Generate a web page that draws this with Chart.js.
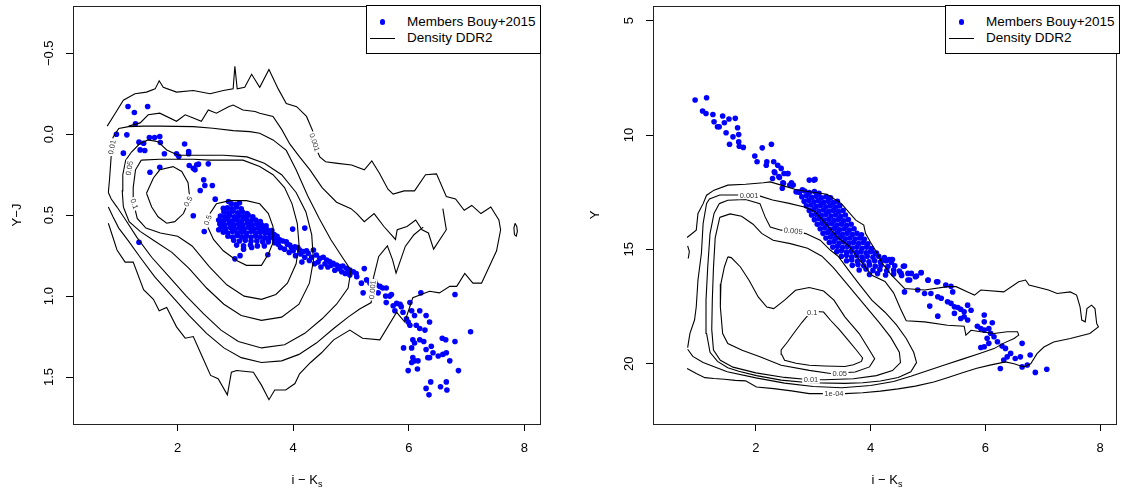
<!DOCTYPE html>
<html>
<head>
<meta charset="utf-8">
<script src="https://cdn.jsdelivr.net/npm/chart.js@4.4.1/dist/chart.umd.min.js"></script>
<style>
  body { margin: 0; background: #fff; width: 1121px; height: 492px; overflow: hidden; position: relative;
         font-family: "Liberation Sans", Arial, Helvetica, sans-serif; color: #000; }
  canvas { position: absolute; top: 0; }
  #leftChart  { left: 0; }
  #rightChart { left: 560px; }
  .legend { position: absolute; top: 5px; width: 175px; height: 49px; box-sizing: border-box;
            border: 1px solid #000; background: #fff; font-size: 13.5px; }
  .legend .dot  { position: absolute; left: 12.6px; top: 13.4px; width: 5.8px; height: 5.8px; border-radius: 50%; background: #00f; }
  .legend .line { position: absolute; left: 3.4px; top: 31.8px; width: 24.6px; height: 1px; background: #000; }
  .legend .txt  { position: absolute; left: 39.9px; line-height: 16px; white-space: nowrap; }
  .xtitle { position: absolute; top: 471px; width: 200px; text-align: center; font-size: 13px; line-height: 18px; }
  .xtitle sub { font-size: 9px; vertical-align: -3px; }
</style>
</head>
<body>
<canvas id="leftChart" width="560" height="492"></canvas>
<canvas id="rightChart" width="561" height="492"></canvas>

<div class="legend" style="left:366px">
  <span class="dot"></span><span class="txt" style="top:8.3px">Members Bouy+2015</span>
  <span class="line"></span><span class="txt" style="top:24.3px">Density DDR2</span>
</div>
<div class="legend" style="left:945px">
  <span class="dot"></span><span class="txt" style="top:8.3px">Members Bouy+2015</span>
  <span class="line"></span><span class="txt" style="top:24.3px">Density DDR2</span>
</div>
<div class="xtitle" style="left:207px">i − K<sub>s</sub></div>
<div class="xtitle" style="left:787px">i − K<sub>s</sub></div>

<script>
// axis ticks
const xTicks = [2, 4, 6, 8];
const leftYTicks  = [-0.5, 0, 0.5, 1, 1.5];
const leftYLabels = ['\u22120.5', '0.0', '0.5', '1.0', '1.5'];
const rightYTicks  = [5, 10, 15, 20];
const rightYLabels = ['5', '10', '15', '20'];

// members, left panel (i-Ks, Y-J)
const leftMembers = [
  [1.14,-0.171],[1.25,-0.134],[1.48,-0.171],[1.27,-0.064],[0.94,0.0],[1.12,0.004],[1.06,0.117],[1.33,0.049],
  [1.41,0.056],[1.51,0.021],[1.60,0.021],[1.69,0.014],[1.70,0.051],[1.35,0.097],[1.43,0.101],[1.52,0.235],
  [1.69,0.204],[1.77,0.121],[1.98,0.121],[2.02,0.138],[2.12,0.060],[2.19,0.107],[2.19,0.121],[2.20,0.193],
  [2.27,0.21],[2.30,0.22],[2.33,0.189],[2.36,0.185],[2.53,0.183],[2.45,0.282],[2.47,0.317],[2.60,0.317],
  [2.39,0.348],[2.65,0.401],[2.27,0.504],[2.46,0.601],[1.33,0.667],[2.73,0.535],[2.71,0.59],[2.79,0.457],[2.88,0.416],
  // dense clump
  [2.93,0.43],[3.01,0.435],[3.07,0.425],
  [2.86,0.455],[2.94,0.46],[3.02,0.45],[3.10,0.46],
  [2.80,0.48],[2.88,0.485],[2.96,0.475],[3.04,0.485],[3.12,0.48],[3.20,0.49],
  [2.74,0.505],[2.82,0.51],[2.90,0.50],[2.98,0.51],[3.06,0.505],[3.14,0.51],[3.22,0.50],[3.30,0.51],
  [2.71,0.53],[2.79,0.535],[2.87,0.525],[2.95,0.535],[3.03,0.53],[3.11,0.535],[3.19,0.525],[3.27,0.535],[3.35,0.53],[3.43,0.54],
  [2.73,0.555],[2.81,0.56],[2.89,0.55],[2.97,0.56],[3.05,0.555],[3.13,0.56],[3.21,0.55],[3.29,0.56],[3.37,0.555],[3.45,0.56],[3.53,0.565],
  [2.75,0.58],[2.83,0.585],[2.91,0.575],[2.99,0.585],[3.07,0.58],[3.15,0.585],[3.23,0.575],[3.31,0.585],[3.39,0.58],[3.47,0.585],[3.55,0.59],[3.63,0.595],
  [2.79,0.605],[2.87,0.61],[2.95,0.60],[3.03,0.61],[3.11,0.605],[3.19,0.61],[3.27,0.60],[3.35,0.61],[3.43,0.605],[3.51,0.61],[3.59,0.615],[3.67,0.62],
  [2.87,0.63],[2.95,0.635],[3.03,0.625],[3.11,0.635],[3.19,0.63],[3.27,0.635],[3.35,0.63],[3.43,0.635],[3.51,0.64],[3.59,0.64],[3.67,0.645],[3.75,0.65],
  [2.97,0.655],[3.07,0.66],[3.17,0.655],[3.27,0.66],[3.37,0.66],[3.47,0.665],[3.57,0.665],[3.68,0.67],
  [3.02,0.685],[3.14,0.69],[3.26,0.685],[3.38,0.69],[3.50,0.69],
  [2.99,0.77],[3.08,0.75],[3.14,0.71],[3.28,0.70],[3.56,0.745],[3.99,0.586],[4.20,0.58],
  // sequence towards red end
  [3.72,0.63],[3.74,0.68],[3.77,0.653],[3.78,0.70],[3.82,0.66],[3.85,0.71],[3.88,0.664],[3.90,0.68],[3.93,0.73],
  [3.94,0.684],[3.97,0.70],[4.00,0.72],[4.03,0.695],[4.04,0.75],[4.08,0.70],[4.11,0.715],[4.13,0.74],[4.15,0.79],
  [4.17,0.725],[4.20,0.76],[4.23,0.72],[4.26,0.736],[4.28,0.78],[4.32,0.76],[4.35,0.715],[4.37,0.80],[4.40,0.746],
  [4.43,0.79],[4.46,0.767],[4.48,0.82],[4.52,0.76],[4.55,0.80],[4.58,0.777],[4.60,0.82],[4.63,0.787],[4.66,0.81],
  [4.69,0.797],[4.72,0.84],[4.75,0.808],[4.78,0.83],[4.81,0.818],[4.84,0.85],[4.86,0.814],[4.90,0.86],[4.92,0.828],
  [4.95,0.85],[4.98,0.839],[5.04,0.85],[5.09,0.86],[5.27,0.90],[5.35,0.92],[5.44,0.93],[5.55,0.95],[5.70,0.99],
  [5.79,1.045],[5.87,1.065],
  [5.23,0.83],[4.98,0.87],[5.10,0.88],[5.18,0.92],[5.33,0.92],[5.41,0.91],[5.50,0.94],[5.61,0.95],[5.39,0.97],
  [5.47,0.98],[5.60,1.00],[5.67,1.00],[5.21,0.98],[5.61,1.04],[5.73,1.06],[5.85,1.05],[6.02,1.04],[5.76,1.09],
  [5.90,1.10],[6.05,1.09],[6.19,1.09],[6.21,0.98],[6.80,0.99],[6.30,1.12],[6.36,1.16],[6.10,1.12],[5.96,1.14],
  [5.99,1.16],[6.02,1.18],[6.13,1.18],[6.19,1.20],[6.28,1.21],[6.07,1.27],[6.19,1.27],[6.26,1.28],[6.10,1.29],
  [6.58,1.26],[6.64,1.27],[6.80,1.28],[7.07,1.22],[5.91,1.32],[6.05,1.32],[6.39,1.31],[6.30,1.33],[6.42,1.35],
  [6.51,1.37],[6.59,1.36],[6.65,1.35],[6.71,1.40],[6.36,1.38],[6.33,1.38],[6.07,1.38],[6.10,1.40],[6.16,1.40],
  [6.05,1.41],[5.99,1.46],[6.15,1.45],[6.86,1.46],[6.38,1.53],[6.65,1.53],[6.55,1.56],[6.66,1.58],[6.30,1.57],[6.35,1.61]
];

// members, right panel (i-Ks, Y)
const rightMembers = [
  [0.94,8.47],[1.14,8.37],[1.07,8.95],[1.13,9.06],[1.25,9.10],[1.27,9.42],[1.33,9.64],[1.36,9.64],[1.42,9.17],
  [1.45,9.46],[1.53,9.30],[1.48,9.90],[1.54,10.40],[1.60,10.08],[1.64,9.27],[1.68,9.68],[1.70,9.98],[1.70,10.30],
  [1.71,10.49],[1.78,10.54],[1.98,10.92],[2.02,11.17],[2.11,10.56],[2.18,11.32],[2.19,11.17],[2.27,10.40],
  [2.31,11.17],[2.33,11.65],[2.38,11.32],[2.44,11.46],[2.41,11.86],[2.47,12.09],[2.49,11.68],[2.56,11.68],
  [2.59,12.19],[2.62,12.09],[2.65,12.19],[2.70,12.48],[2.93,11.97],[3.01,11.97],[3.03,11.94],
  [2.32,11.61],[2.40,11.82],[2.55,11.68],[2.29,11.90],[2.48,12.11],[2.46,12.33],[2.63,12.19],[2.72,12.48],[2.81,12.40],
  // dense clump
  [2.76,12.50],[2.85,12.45],[2.93,12.52],[3.02,12.47],[3.10,12.55],
  [2.80,12.70],[2.88,12.66],[2.97,12.72],[3.05,12.68],[3.14,12.74],[3.22,12.70],[3.30,12.75],
  [2.84,12.90],[2.92,12.86],[3.01,12.92],[3.09,12.88],[3.18,12.94],[3.26,12.90],[3.35,12.95],[3.42,12.90],
  [2.88,13.10],[2.96,13.06],[3.05,13.12],[3.13,13.08],[3.22,13.14],[3.30,13.10],[3.39,13.15],[3.46,13.10],
  [2.93,13.30],[3.01,13.26],[3.10,13.32],[3.18,13.28],[3.27,13.34],[3.35,13.30],[3.44,13.35],[3.52,13.30],
  [2.97,13.50],[3.05,13.46],[3.14,13.52],[3.22,13.48],[3.31,13.54],[3.39,13.50],[3.48,13.55],[3.56,13.50],
  [3.02,13.70],[3.10,13.66],[3.19,13.72],[3.27,13.68],[3.36,13.74],[3.44,13.70],[3.53,13.75],[3.61,13.70],
  [3.07,13.90],[3.15,13.86],[3.24,13.92],[3.32,13.88],[3.41,13.94],[3.49,13.90],[3.58,13.95],[3.66,13.90],
  [3.12,14.10],[3.20,14.06],[3.29,14.12],[3.37,14.08],[3.46,14.14],[3.54,14.10],[3.63,14.15],[3.71,14.10],
  [3.17,14.30],[3.25,14.26],[3.34,14.32],[3.42,14.28],[3.51,14.34],[3.59,14.30],[3.68,14.35],[3.76,14.30],[3.84,14.36],
  [3.22,14.50],[3.30,14.46],[3.39,14.52],[3.47,14.48],[3.56,14.54],[3.64,14.50],[3.73,14.55],[3.81,14.50],[3.89,14.56],
  [3.28,14.70],[3.36,14.66],[3.45,14.72],[3.53,14.68],[3.62,14.74],[3.70,14.70],[3.79,14.75],[3.87,14.70],[3.95,14.76],
  [3.34,14.90],[3.42,14.86],[3.51,14.92],[3.59,14.88],[3.68,14.94],[3.76,14.90],[3.85,14.95],[3.93,14.90],[4.01,14.96],
  [3.41,15.10],[3.49,15.06],[3.58,15.12],[3.66,15.08],[3.75,15.14],[3.83,15.10],[3.92,15.15],[4.00,15.10],[4.10,15.16],
  [3.49,15.30],[3.58,15.26],[3.67,15.32],[3.76,15.28],[3.85,15.34],[3.94,15.30],[4.04,15.35],[4.14,15.30],[4.24,15.36],
  [3.58,15.50],[3.67,15.46],[3.77,15.52],[3.87,15.48],[3.97,15.54],[4.07,15.50],[4.17,15.55],[4.27,15.50],[4.36,15.56],
  [3.68,15.70],[3.78,15.66],[3.88,15.72],[3.98,15.68],[4.08,15.74],[4.18,15.70],[4.30,15.75],[4.42,15.72],
  [3.80,15.90],[3.92,15.86],[4.04,15.92],[4.16,15.88],[4.28,15.94],[4.40,15.90],[4.50,15.95],
  [3.98,16.10],[4.12,16.06],[4.26,16.12],[4.40,16.08],[4.54,16.14],
  // sequence towards faint end
  [4.20,15.47],[4.32,15.44],[4.38,15.44],[4.57,15.74],[4.88,16.01],[4.78,16.20],[5.00,16.35],[5.15,16.42],[5.43,16.86],
  [4.02,15.03],[4.08,15.17],[4.25,15.47],[4.36,15.44],[4.59,15.73],[4.65,16.05],[4.53,16.05],[4.71,16.05],[4.80,16.17],
  [4.88,16.02],[5.00,16.34],[5.17,16.42],[5.31,16.56],[5.40,16.61],[4.59,16.86],[4.65,16.34],[4.68,16.34],[4.82,16.78],
  [4.94,16.93],[5.05,16.93],[5.17,17.07],[5.23,17.14],[5.34,17.29],[5.40,17.36],[5.46,17.51],[5.52,17.54],[5.57,17.62],
  [5.63,17.73],[5.69,17.44],[5.75,17.66],[5.03,17.48],[5.17,17.92],[5.46,17.80],[5.57,18.02],[5.63,17.95],[5.69,18.09],
  [5.98,17.87],[6.12,18.21],[5.98,18.17],[5.86,18.36],[5.92,18.46],[5.98,18.53],[6.06,18.46],[6.09,18.67],[6.03,18.89],
  [6.15,18.82],[6.21,19.04],[6.06,19.11],[5.98,19.26],[5.92,19.29],[6.29,19.23],[6.35,19.33],[6.44,19.55],[6.38,19.70],
  [6.32,19.84],[6.26,20.21],[6.52,19.77],[6.61,19.70],[6.64,19.11],[6.78,19.62],[6.73,20.06],[6.64,20.14],[6.87,20.38],[7.07,20.24]
];

// density contours, left panel
const leftC0001 = [[0.78,-0.05],[0.92,-0.13],[1.06,-0.21],[1.26,-0.25],[1.46,-0.26],[1.61,-0.28],[1.68,-0.33],[1.75,-0.29],[1.98,-0.26],[2.27,-0.27],[2.56,-0.25],[2.79,-0.27],[2.96,-0.28],[2.99,-0.42],[3.03,-0.28],[3.16,-0.29],[3.28,-0.37],[3.42,-0.29],[3.58,-0.40],[3.74,-0.28],[3.88,-0.19],[4.06,-0.17],[4.23,-0.11],[4.35,-0.01],[4.40,0.09],[4.46,0.14],[4.56,0.17],[4.77,0.18],[5.01,0.19],[5.23,0.22],[5.36,0.165],[5.49,0.24],[5.64,0.34],[5.73,0.37],[5.92,0.35],[6.10,0.35],[6.29,0.25],[6.48,0.245],[6.65,0.385],[6.81,0.40],[6.96,0.47],[7.09,0.44],[7.25,0.49],[7.42,0.45],[7.56,0.53],[7.59,0.59],[7.52,0.72],[7.26,0.92],[7.11,0.92],[6.97,0.86],[6.83,0.94],[6.71,0.94],[6.53,0.98],[6.36,0.97],[6.07,1.01],[5.93,1.16],[5.79,1.10],[5.50,1.27],[5.20,1.26],[4.98,1.21],[4.70,1.27],[4.49,1.35],[4.30,1.41],[4.11,1.48],[4.03,1.54],[3.87,1.58],[3.68,1.58],[3.58,1.64],[3.45,1.55],[3.31,1.47],[3.02,1.46],[2.93,1.47],[2.86,1.61],[2.70,1.51],[2.57,1.49],[2.42,1.37],[2.27,1.25],[2.13,1.26],[1.98,1.19],[1.81,1.07],[1.68,1.09],[1.58,1.02],[1.41,0.96],[1.23,0.79],[1.09,0.79],[0.95,0.715],[0.80,0.55]];
const leftStrand = [[1.15,-0.05],[1.35,-0.07],[1.49,-0.12],[1.69,-0.13],[1.98,-0.08],[2.13,-0.12],[2.27,-0.10],[2.41,-0.08],[2.53,-0.15],[2.67,-0.13],[2.88,-0.17],[2.96,-0.18],[3.13,-0.15],[3.34,-0.14],[3.42,-0.13],[3.65,-0.11],[3.80,-0.03],[3.94,0.06],[4.11,0.14],[4.29,0.22],[4.50,0.33],[4.75,0.42],[5.00,0.46],[5.10,0.49],[5.23,0.54],[5.40,0.49],[5.57,0.57],[5.77,0.65],[5.80,0.59],[5.97,0.57],[6.12,0.53],[6.23,0.59],[6.34,0.61],[6.43,0.71],[6.65,0.59],[6.59,0.46]];
const leftStrandLow = [[6.25,0.574],[6.09,0.621],[5.94,0.693],[5.78,0.858],[5.72,0.776],[5.63,0.69],[5.48,0.755],[5.38,0.90],[5.35,1.04],[5.15,1.08],[4.95,1.13],[4.70,1.20],[4.40,1.29],[4.10,1.36],[3.80,1.40],[3.45,1.41],[3.10,1.38],[2.80,1.32],[2.50,1.23],[2.20,1.12],[1.90,1.00],[1.60,0.88],[1.35,0.76],[1.15,0.66],[0.98,0.58],[0.88,0.51],[0.80,0.45]];
const leftC001 = [[0.80,0.36],[0.82,0.28],[0.84,0.18],[0.86,0.08],[0.88,0.02],[0.98,-0.035],[1.15,-0.047],[1.41,-0.05],[1.69,-0.05],[2.27,-0.047],[2.61,-0.037],[2.96,-0.022],[3.25,-0.016],[3.42,-0.006],[3.65,0.035],[3.88,0.10],[4.05,0.22],[4.25,0.38],[4.45,0.52],[4.65,0.65],[4.85,0.76],[5.00,0.84],[4.95,0.95],[4.75,1.05],[4.50,1.14],[4.20,1.23],[3.85,1.30],[3.45,1.32],[3.05,1.28],[2.75,1.21],[2.45,1.11],[2.15,1.00],[1.85,0.88],[1.55,0.76],[1.30,0.64],[1.10,0.53],[0.95,0.45],[0.85,0.40],[0.80,0.36]];
const leftC005 = [[1.06,0.45],[1.04,0.35],[1.05,0.25],[1.10,0.16],[1.20,0.11],[1.35,0.056],[1.49,0.035],[1.66,0.046],[1.81,0.097],[2.01,0.13],[2.40,0.13],[2.80,0.13],[3.20,0.14],[3.50,0.18],[3.80,0.25],[4.05,0.36],[4.22,0.48],[4.32,0.62],[4.35,0.78],[4.28,0.92],[4.10,1.05],[3.80,1.13],[3.45,1.15],[3.10,1.12],[2.80,1.05],[2.50,0.95],[2.20,0.83],[1.90,0.73],[1.60,0.66],[1.35,0.60],[1.16,0.54],[1.06,0.45]];
const leftC01 = [[1.37,0.16],[1.69,0.155],[2.27,0.155],[2.56,0.16],[3.13,0.16],[3.42,0.20],[3.65,0.25],[3.85,0.33],[3.98,0.43],[4.07,0.55],[4.10,0.68],[4.05,0.80],[3.90,0.92],[3.70,0.99],[3.45,1.02],[3.15,1.00],[2.85,0.93],[2.55,0.82],[2.25,0.69],[2.00,0.63],[1.70,0.61],[1.45,0.58],[1.30,0.52],[1.24,0.43],[1.23,0.33],[1.27,0.22],[1.37,0.16]];
const leftPeakA = [[1.46,0.365],[1.58,0.27],[1.69,0.22],[1.92,0.20],[2.07,0.23],[2.18,0.30],[2.21,0.40],[2.10,0.49],[1.95,0.54],[1.81,0.55],[1.66,0.51],[1.55,0.45],[1.46,0.365]];
const leftPeakB = [[2.56,0.49],[2.67,0.43],[2.90,0.41],[3.19,0.41],[3.42,0.43],[3.57,0.49],[3.65,0.57],[3.65,0.67],[3.57,0.74],[3.45,0.81],[3.19,0.81],[3.02,0.78],[2.79,0.72],[2.62,0.65],[2.53,0.58],[2.56,0.49]];
const leftIsland = [[7.84,0.55],[7.87,0.57],[7.88,0.60],[7.86,0.63],[7.83,0.62],[7.82,0.58],[7.84,0.55]];
const leftLabels = [
  { x: 4.37, y: 0.05, text: '0.001', angle: 72 },
  { x: 0.86, y: 0.08, text: '0.01', angle: -80 },
  { x: 1.16, y: 0.21, text: '0.05', angle: -80 },
  { x: 1.25, y: 0.43, text: '0.1', angle: 70 },
  { x: 2.18, y: 0.415, text: '0.5', angle: -60 },
  { x: 2.52, y: 0.53, text: '0.5', angle: -70 },
  { x: 5.37, y: 0.96, text: '0.001', angle: -85 }
];

// density contours, right panel
const rightC1e4 = [[0.80,14.48],[0.96,14.16],[0.99,13.43],[1.08,13.00],[1.14,12.63],[1.27,12.41],[1.51,12.19],[1.82,12.15],[2.13,12.09],[2.25,12.05],[2.44,12.19],[2.69,12.38],[2.93,12.48],[3.24,12.59],[3.49,13.00],[3.74,13.72],[3.88,13.94],[3.91,14.30],[4.00,14.70],[4.10,15.10],[4.20,15.60],[4.36,16.12],[4.59,16.71],[4.94,16.78],[5.34,16.63],[5.49,16.63],[5.69,16.86],[5.81,17.00],[5.92,16.78],[6.32,16.86],[6.58,16.42],[6.70,16.34],[6.76,16.56],[7.10,16.78],[7.25,16.93],[7.48,16.86],[7.59,17.00],[7.65,17.51],[7.68,18.09],[7.74,18.17],[7.77,17.59],[7.85,17.44],[7.91,17.59],[7.94,18.24],[7.97,18.39],[7.82,18.68],[7.48,18.90],[7.19,19.05],[7.02,19.27],[6.90,19.56],[6.79,20.00],[6.67,20.14],[6.50,20.00],[6.35,19.92],[6.10,20.05],[5.85,20.20],[5.60,20.40],[5.35,20.60],[5.10,20.80],[4.78,20.98],[4.48,21.10],[4.17,21.20],[3.86,21.27],[3.55,21.31],[2.93,21.31],[2.62,21.19],[2.31,21.09],[2.01,21.02],[1.82,20.75],[1.64,20.73],[1.45,20.68],[1.27,20.65],[1.11,20.61],[0.96,20.43],[0.80,20.21]];
const rightArc = [[0.81,14.85],[0.84,15.10],[0.82,15.40]];
const rightC0001 = [[0.81,19.30],[0.85,18.67],[0.93,18.09],[0.96,17.51],[0.99,16.34],[1.05,15.17],[1.08,13.86],[1.14,12.99],[1.19,12.80],[1.37,12.62],[1.71,12.62],[2.06,12.66],[2.29,12.84],[2.58,12.99],[2.86,13.16],[3.03,13.35],[3.21,13.86],[3.44,14.52],[3.61,14.83],[3.79,15.41],[4.02,16.13],[4.25,16.40],[4.40,16.90],[4.52,17.60],[4.62,18.12],[4.94,18.17],[5.34,18.32],[5.63,18.36],[5.66,18.75],[5.75,18.54],[5.92,18.60],[6.15,18.68],[6.38,18.60],[6.56,18.60],[6.58,18.75],[6.50,18.90],[6.32,19.10],[6.15,19.34],[5.90,19.55],[5.60,19.80],[5.30,20.05],[5.00,20.30],[4.70,20.55],[4.40,20.78],[4.00,20.95],[3.50,21.05],[3.00,21.00],[2.50,20.85],[2.00,20.62],[1.50,20.35],[1.08,19.95],[0.90,19.68],[0.81,19.37]];
const rightC0005 = [[1.36,13.00],[1.51,12.85],[1.82,12.82],[2.07,13.00],[2.16,13.58],[2.25,14.02],[2.44,14.16],[2.65,14.19],[2.87,14.31],[3.12,14.60],[3.30,15.04],[3.44,15.32],[3.61,15.90],[3.79,16.49],[4.02,17.22],[4.25,17.75],[4.45,18.30],[4.62,18.90],[4.75,19.50],[4.80,19.95],[4.70,20.35],[4.48,20.60],[4.17,20.76],[3.86,20.83],[3.55,20.86],[2.93,20.83],[2.44,20.72],[2.01,20.52],[1.70,20.33],[1.51,20.18],[1.33,19.90],[1.20,19.50],[1.14,18.68],[1.13,17.22],[1.16,15.77],[1.20,14.31],[1.27,13.43],[1.36,13.00]];
const rightC001 = [[1.37,13.60],[1.55,13.45],[1.75,13.55],[1.95,13.90],[2.10,14.30],[2.30,14.60],[2.60,14.75],[2.90,14.95],[3.15,15.30],[3.35,15.80],[3.55,16.40],[3.75,17.00],[3.95,17.60],[4.15,18.20],[4.35,18.85],[4.50,19.50],[4.52,19.95],[4.38,20.30],[4.10,20.52],[3.70,20.66],[3.20,20.70],[2.90,20.69],[2.50,20.60],[2.00,20.40],[1.60,20.15],[1.38,19.85],[1.26,19.40],[1.23,18.50],[1.24,17.20],[1.26,15.80],[1.29,14.50],[1.37,13.60]];
const rightC005 = [[1.51,15.33],[1.45,15.77],[1.39,16.50],[1.38,17.52],[1.42,18.68],[1.51,19.12],[1.76,19.41],[2.07,19.70],[2.44,20.07],[2.93,20.29],[3.30,20.43],[3.73,20.36],[3.98,20.14],[4.07,19.78],[3.98,19.41],[3.80,18.68],[3.55,17.95],[3.36,17.22],[3.18,16.82],[2.93,16.67],[2.69,16.79],[2.50,17.22],[2.31,17.59],[2.19,17.52],[2.04,17.08],[1.88,16.35],[1.73,15.77],[1.57,15.36],[1.51,15.33]];
const rightC01 = [[2.45,19.60],[2.44,19.40],[2.55,19.05],[2.65,18.70],[2.80,18.20],[2.93,17.81],[3.05,17.72],[3.18,17.74],[3.30,18.10],[3.45,18.50],[3.60,18.95],[3.75,19.40],[3.86,19.75],[3.84,19.90],[3.70,20.05],[3.55,20.12],[3.20,20.10],[2.93,20.07],[2.70,19.98],[2.50,19.85],[2.45,19.60]];
const rightLabels = [
  { x: 1.88, y: 12.63, text: '0.001', angle: 0 },
  { x: 2.65, y: 14.19, text: '0.005', angle: 6 },
  { x: 2.98, y: 17.74, text: '0.1', angle: 0 },
  { x: 3.46, y: 20.42, text: '0.05', angle: 0 },
  { x: 2.96, y: 20.70, text: '0.01', angle: 0 },
  { x: 3.36, y: 21.31, text: '1e-04', angle: 0 }
];

const leftLines  = [leftC0001, leftStrand, leftStrandLow, leftC001, leftC005, leftC01, leftPeakA, leftPeakB, leftIsland];
const rightLines = [rightC1e4, rightArc, rightC0001, rightC0005, rightC001, rightC005, rightC01];

const FONT = '"Liberation Sans", Arial, Helvetica, sans-serif';
Chart.defaults.font.family = FONT;
Chart.defaults.color = '#000';

// plot frame and contour labels, drawn like R does
const framePlugin = {
  id: 'frame',
  afterDatasetsDraw(chart) {
    const items = chart.options.plugins.frame.labels || [];
    const { ctx, scales } = chart;
    ctx.save();
    ctx.beginPath();
    ctx.rect(chart.chartArea.left, chart.chartArea.top, chart.chartArea.width, chart.chartArea.height);
    ctx.clip();
    ctx.font = '7.5px ' + FONT;
    ctx.textAlign = 'center';
    ctx.textBaseline = 'middle';
    items.forEach(l => {
      const px = scales.x.getPixelForValue(l.x);
      const py = scales.y.getPixelForValue(l.y);
      const w = ctx.measureText(l.text).width;
      ctx.save();
      ctx.translate(px, py);
      ctx.rotate(l.angle * Math.PI / 180);
      ctx.fillStyle = '#fff';
      ctx.fillRect(-w / 2 - 1.5, -4, w + 3, 8);
      ctx.fillStyle = '#333';
      ctx.fillText(l.text, 0, 0.5);
      ctx.restore();
    });
    ctx.restore();
  },
  afterDraw(chart) {
    const { ctx, chartArea: a } = chart;
    ctx.save();
    ctx.strokeStyle = '#222';
    ctx.lineWidth = 1;
    ctx.strokeRect(Math.round(a.left) + 0.5, Math.round(a.top) + 0.5,
                   Math.round(a.right) - Math.round(a.left) - 1, Math.round(a.bottom) - Math.round(a.top));
    ctx.restore();
  }
};

function buildChart(canvasId, members, lines, cfg) {
  const datasets = lines.map(pts => ({
    data: pts.map(([x, y]) => ({ x, y })),
    showLine: true,
    borderColor: '#000',
    borderWidth: 1.1,
    pointRadius: 0,
    fill: false,
    tension: 0,
    order: 0
  }));
  datasets.push({
    label: 'Members Bouy+2015',
    data: members.map(([x, y]) => ({ x, y })),
    pointRadius: 2.8,
    pointBackgroundColor: '#0000ff',
    pointBorderWidth: 0,
    showLine: false,
    order: 1
  });

  const noPad = s => { s.paddingTop = 0; s.paddingBottom = 0; s.paddingLeft = 0; s.paddingRight = 0; };

  return new Chart(document.getElementById(canvasId), {
    type: 'scatter',
    data: { datasets },
    plugins: [framePlugin],
    options: {
      responsive: false,
      animation: false,
      devicePixelRatio: 1,
      layout: { padding: { left: 0, top: 6, right: cfg.padRight, bottom: 0 } },
      plugins: { legend: { display: false }, tooltip: { enabled: false }, frame: { labels: cfg.labels } },
      scales: {
        x: {
          type: 'linear', bounds: 'data', min: cfg.xMin, max: cfg.xMax,
          afterBuildTicks: s => { s.ticks = xTicks.map(v => ({ value: v })); },
          afterFit: s => { s.height = 68; noPad(s); },
          grid: { drawOnChartArea: false, drawTicks: true, tickLength: 7, color: '#000', lineWidth: 1 },
          border: { display: false },
          ticks: { font: { size: 13 }, color: '#000', padding: 10, autoSkip: false, maxRotation: 0, minRotation: 0,
                   callback: v => String(v) }
        },
        y: {
          type: 'linear', bounds: 'data', reverse: true, min: cfg.yMin, max: cfg.yMax,
          afterBuildTicks: s => { s.ticks = cfg.yTicks.map(v => ({ value: v })); },
          afterFit: s => { s.width = cfg.yWidth; noPad(s); },
          grid: { drawOnChartArea: false, drawTicks: true, tickLength: 7, color: '#000', lineWidth: 1 },
          border: { display: false },
          ticks: { font: { size: 13 }, color: '#000', padding: cfg.yTickPad, autoSkip: false,
                   minRotation: 90, maxRotation: 90, crossAlign: 'center',
                   callback: v => cfg.yLabels[cfg.yTicks.indexOf(v)] },
          title: { display: true, text: cfg.yTitle, font: { size: 13 }, color: '#000',
                   padding: { top: cfg.yTitlePad, bottom: 0 } }
        }
      }
    }
  });
}

buildChart('leftChart', leftMembers, leftLines, {
  xMin: 0.188, xMax: 8.289, yMin: -0.792, yMax: 1.790,
  yTicks: leftYTicks, yLabels: leftYLabels, yTitle: 'Y\u2212J',
  yWidth: 73, padRight: 19, yTickPad: 4.1, yTitlePad: 9.2, labels: leftLabels
});
buildChart('rightChart', rightMembers, rightLines, {
  xMin: 0.206, xMax: 8.294, yMin: 4.357, yMax: 22.637,
  yTicks: rightYTicks, yLabels: rightYLabels, yTitle: 'Y',
  yWidth: 93, padRight: 0.5, yTickPad: 9.8, yTitlePad: 27.2, labels: rightLabels
});
</script>
</body>
</html>
